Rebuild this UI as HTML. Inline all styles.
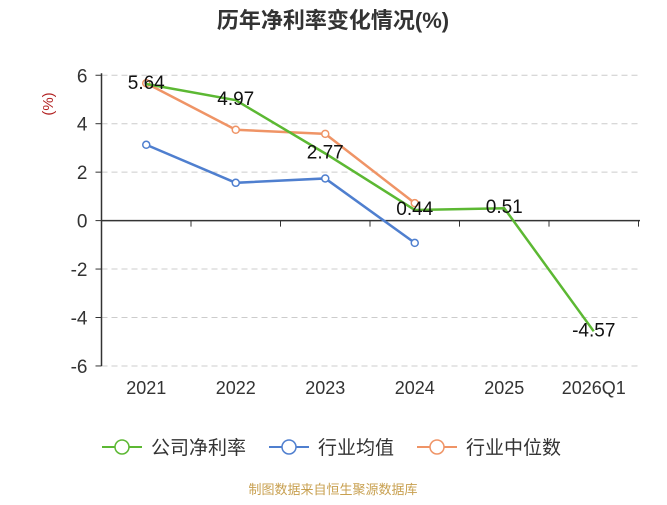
<!DOCTYPE html>
<html><head><meta charset="utf-8"><style>
body{margin:0;background:#fff;}
text{font-family:"Liberation Sans","Noto Sans CJK SC",sans-serif;}
</style></head><body>
<svg id="c" width="667" height="500" xmlns="http://www.w3.org/2000/svg">
<text x="333" y="28" text-anchor="middle" font-size="22" font-weight="bold" fill="#333">历年净利率变化情况(%)</text>
<text transform="translate(53,104) rotate(-90)" text-anchor="middle" font-size="15" fill="#b22222">(%)</text>
<g id="grid"></g><g id="series"></g>
<g>
 <g><line x1="102" y1="447" x2="142" y2="447" stroke="#5cb833" stroke-width="2"/><circle cx="122" cy="447" r="7" fill="#fff" stroke="#5cb833" stroke-width="1.5"/><text x="151" y="454" font-size="19" fill="#333">公司净利率</text></g>
 <g><line x1="269" y1="447" x2="309" y2="447" stroke="#4f7fcf" stroke-width="2"/><circle cx="289" cy="447" r="7" fill="#fff" stroke="#4f7fcf" stroke-width="1.5"/><text x="318" y="454" font-size="19" fill="#333">行业均值</text></g>
 <g><line x1="417" y1="447" x2="457" y2="447" stroke="#ef9466" stroke-width="2"/><circle cx="437" cy="447" r="7" fill="#fff" stroke="#ef9466" stroke-width="1.5"/><text x="466" y="454" font-size="19" fill="#333">行业中位数</text></g>
</g>
<text x="333" y="494" text-anchor="middle" font-size="13" fill="#c8a050">制图数据来自恒生聚源数据库</text>
</svg>
<script>
const categories=["2021","2022","2023","2024","2025","2026Q1"];
const companyVals=[5.64,4.97,2.77,0.44,0.51,-4.57];
const avgVals=[3.13,1.56,1.74,-0.92];
const medianVals=[5.67,3.75,3.58,0.72];
const yTicks=[-6,-4,-2,0,2,4,6];
const NS="http://www.w3.org/2000/svg";
const x0=101.5,bw=89.5,yTop=75.3,yBot=366;
const yS=v=>220.6-(v)*(yBot-yTop)/12;
const xS=i=>x0+bw*(i+0.5);
function mk(t,a,p){const e=document.createElementNS(NS,t);for(const k in a)e.setAttribute(k,a[k]);p.appendChild(e);return e;}
const g=document.getElementById('grid'),s=document.getElementById('series');
yTicks.forEach(v=>{
 if(v!==0){const l=mk('line',{x1:x0,x2:640,y1:yS(v),y2:yS(v),stroke:'#ccc','stroke-dasharray':'6,4'},g);
 
 }
 const tk=mk('line',{x1:x0-6,x2:x0,y1:yS(v),y2:yS(v),stroke:'#333'},g);
 
 
 const t=mk('text',{x:x0-14,y:yS(v)+7,'text-anchor':'end','font-size':'19',fill:'#333'},g);t.textContent=v;
 
 
});
const ya=mk('line',{x1:x0,x2:x0,y1:yTop-2,y2:yBot,stroke:'#333','stroke-width':1.5},g);


const xa=mk('line',{x1:x0,x2:640,y1:yS(0),y2:yS(0),stroke:'#333','stroke-width':1.5},g);


categories.forEach((c,i)=>{
 const tk=mk('line',{x1:x0+bw*(i+1),x2:x0+bw*(i+1),y1:yS(0),y2:yS(0)+6,stroke:'#333'},g);
 
 
 const t=mk('text',{x:xS(i),y:394,'text-anchor':'middle','font-size':'18',fill:'#333'},g);t.textContent=c;
 
 
});
function series(vals,col,name,markers){
 const p=mk('polyline',{points:vals.map((v,i)=>xS(i)+','+yS(v)).join(' '),fill:'none',stroke:col,'stroke-width':2.5},s);
 
 
 if(markers)vals.forEach((v,i)=>{const c=mk('circle',{cx:xS(i),cy:yS(v),r:3.5,fill:'#fff',stroke:col,'stroke-width':1.5},s);
 
 });
}
series(avgVals,'#4f7fcf','industry-avg',true);
series(medianVals,'#ef9466','industry-median',true);
series(companyVals,'#5cb833','company',false);
companyVals.forEach((v,i)=>{
 const t=mk('text',{x:xS(i),y:yS(v)+5,'text-anchor':'middle','font-size':'19',fill:'#111'},s);t.textContent=v.toFixed(2);
 
 
});
</script>
</body></html>
